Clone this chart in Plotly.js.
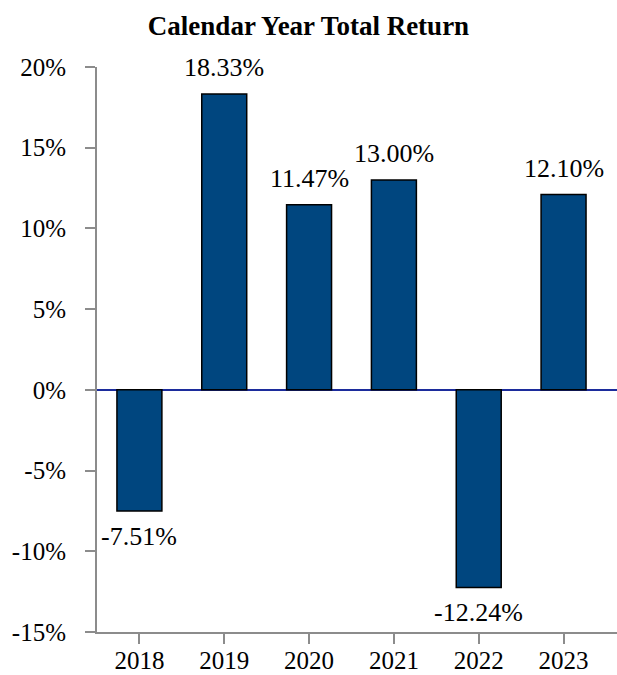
<!DOCTYPE html>
<html>
<head>
<meta charset="utf-8">
<script src="https://cdn.plot.ly/plotly-3.0.1.min.js"></script>
<style>html,body{margin:0;padding:0;background:#fff;}#chart{width:617px;height:675px;}</style>
</head>
<body>
<div id="chart"></div>
<script>
var years = ["2018", "2019", "2020", "2021", "2022", "2023"];
var returns = [-7.51, 18.33, 11.47, 13.00, -12.24, 12.10];
var labels = ["-7.51%", "18.33%", "11.47%", "13.00%", "-12.24%", "12.10%"];
var yTicks = [-15, -10, -5, 0, 5, 10, 15, 20];
var yTickLabels = ["-15%", "-10%", "-5%", "0%", "5%", "10%", "15%", "20%"];

var serif = "Liberation Serif, Times New Roman, serif";
var trace = {
  type: "bar",
  x: years,
  y: returns,
  textposition: "none",
  marker: {color: "#00467F", line: {color: "#000", width: 1.5}},
  hoverinfo: "none"
};
// category axis: annotation x uses the category index
var annotations = years.map(function (yr, i) {
  var pos = returns[i] >= 0;
  return {
    x: i, y: returns[i], xref: "x", yref: "y",
    text: labels[i], showarrow: false,
    xanchor: "center", yanchor: pos ? "bottom" : "top",
    yshift: pos ? 10 : -9,
    font: {family: serif, size: 26, color: "#000"}
  };
});
var layout = {
  width: 617, height: 675,
  margin: {l: 97, r: 0, t: 67, b: 43},
  paper_bgcolor: "#fff", plot_bgcolor: "#fff",
  title: {text: "<b>Calendar Year Total Return</b>", font: {family: serif, size: 27, color: "#000"}, x: 0.5, xanchor: "center", y: 0.962, yanchor: "middle"},
  bargap: 0.47,
  showlegend: false,
  annotations: annotations,
  xaxis: {
    type: "category",
    range: [-0.5, 5.63],
    showline: true, linecolor: "#8c8c8c", linewidth: 2,
    ticks: "outside", ticklen: 10, tickwidth: 2, tickcolor: "#8c8c8c",
    ticklabelstandoff: -5,
    tickfont: {family: serif, size: 25, color: "#000"},
    showgrid: false, zeroline: false, fixedrange: true
  },
  yaxis: {
    range: [-15, 20],
    tickvals: yTicks, ticktext: yTickLabels,
    showline: true, linecolor: "#8c8c8c", linewidth: 2,
    ticks: "outside", ticklen: 10, tickwidth: 2, tickcolor: "#8c8c8c",
    ticklabelstandoff: 14,
    tickfont: {family: serif, size: 25, color: "#000"},
    showgrid: false,
    zeroline: true, zerolinecolor: "#1C2C9C", zerolinewidth: 2,
    fixedrange: true
  }
};
Plotly.newPlot("chart", [trace], layout, {displayModeBar: false, staticPlot: true});
</script>
</body>
</html>
